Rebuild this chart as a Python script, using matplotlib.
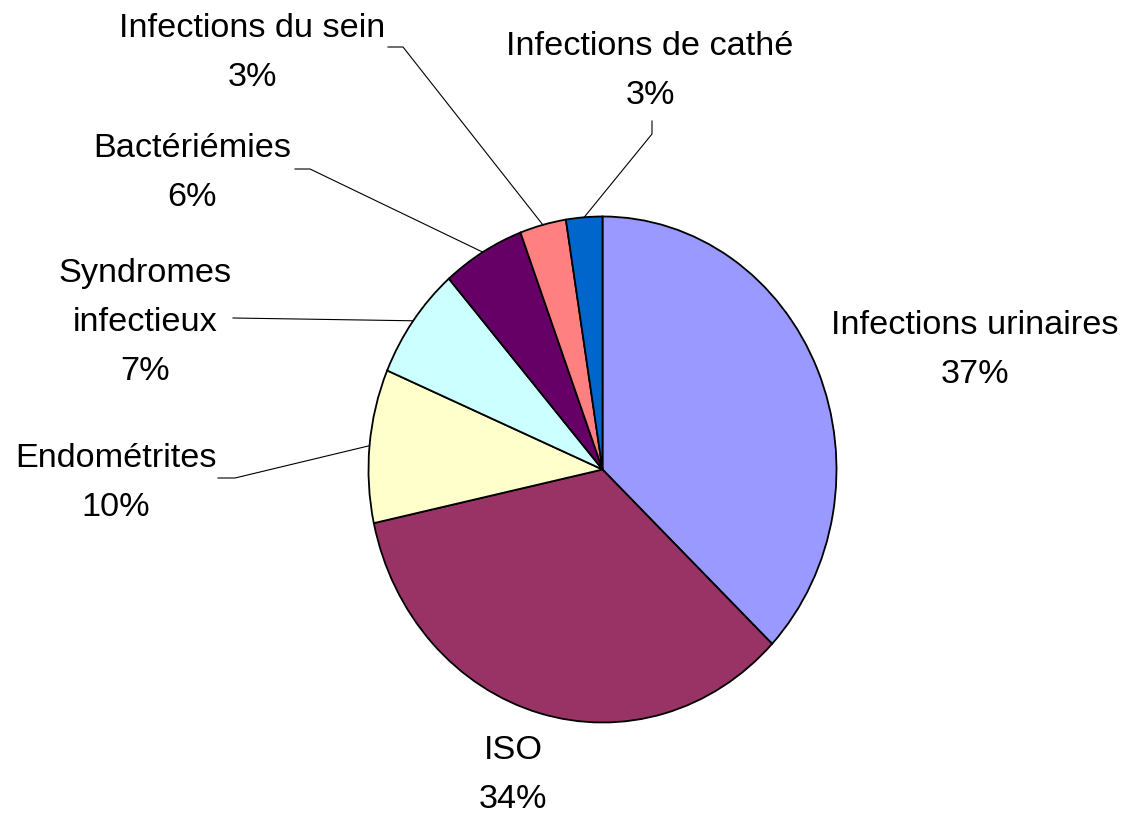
import matplotlib
matplotlib.use("Agg")
import matplotlib.pyplot as plt
import numpy as np

# slice shares, clockwise from 12 o'clock
labels = ["Infections urinaires", "ISO", "Endométrites", "Syndromes\ninfectieux",
          "Bactériémies", "Infections du sein", "Infections de cathé"]
shares = [37.1, 34.5, 9.8, 7.2, 5.7, 3.2, 2.5]
shown_pct = [37, 34, 10, 7, 6, 3, 3]
colors = ["#9999FF", "#993366", "#FFFFCC", "#CCFFFF", "#660066", "#FF8080", "#0066CC"]

W, H = 1126, 816
CX, CY, RX, RY = 602.5, 469.5, 234.0, 253.0   # pie centre / radii in pixels


def px(x, y):
    """pixel position (origin top-left) -> data coords of the pie axes"""
    return (x - CX) / RX, (CY - y) / RY


# label anchor (centre x, baseline of the last line) and leader elbows, in pixels
label_pos = [(975, 383), (513, 808), (116, 516), (145, 380),
             (192, 206), (252, 86), (650, 104)]
leaders = [None, None,
           [(218, 478), (235, 478)],
           [(233, 318)],
           [(295, 169), (310, 169)],
           [(388, 47), (403, 47)],
           [(652, 121), (652, 134)]]

plt.rcParams["font.family"] = ["Liberation Sans", "DejaVu Sans"]

fig = plt.figure(figsize=(W / 100, H / 100), dpi=100)
ax = fig.add_axes([0, 0, 1, 1])
wedges, _ = ax.pie(shares, colors=colors, startangle=90, counterclock=False,
                   wedgeprops=dict(edgecolor="black", linewidth=1.3))
ax.set_aspect("auto")
ax.set_xlim(-CX / RX, (W - CX) / RX)
ax.set_ylim(-(H - CY) / RY, CY / RY)
ax.axis("off")

for i, w in enumerate(wedges):
    x, y = px(*label_pos[i])
    ax.text(x, y, f"{labels[i]}\n{shown_pct[i]}%", ha="center", va="baseline",
            fontsize=24.7, linespacing=1.75, color="black")
    if leaders[i] is None:
        continue
    mid = np.deg2rad((w.theta1 + w.theta2) / 2)
    pts = [px(*p) for p in leaders[i]] + [(np.cos(mid), np.sin(mid))]
    xs, ys = zip(*pts)
    ax.plot(xs, ys, color="black", lw=0.8, clip_on=False)

fig.savefig("out.png", dpi=100, facecolor="white")
